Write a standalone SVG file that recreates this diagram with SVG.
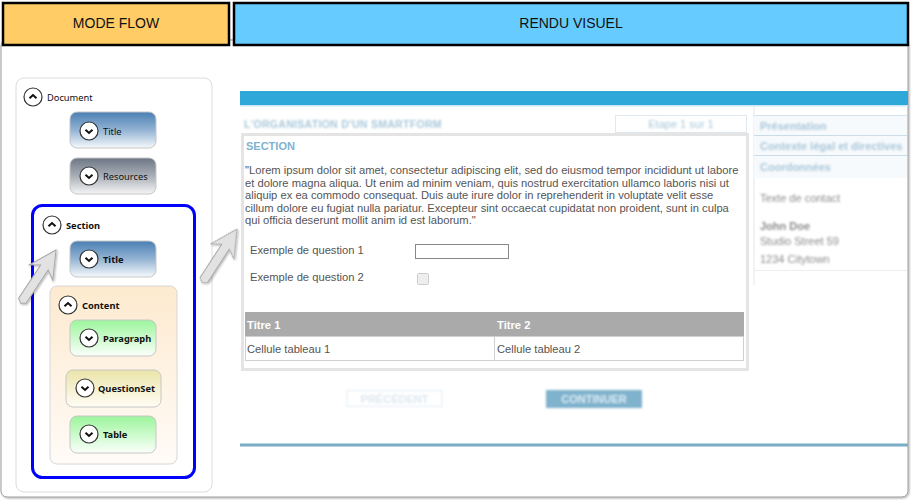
<svg xmlns="http://www.w3.org/2000/svg" xmlns:xlink="http://www.w3.org/1999/xlink" width="911" height="500" viewBox="0 0 911 500">
<style>
.hdr{stroke:#000;stroke-width:2.5}
.htxt{font-family:"Liberation Sans",Arial,sans-serif;font-size:14px;fill:#111;text-anchor:middle}
.lbl{font-family:"Noto Sans","Open Sans",sans-serif;font-size:9.3px;fill:#111}
.b{font-weight:bold}
.node{stroke:#c6c6c6;stroke-width:1}
.arrow{fill:#e2e2e2;stroke:#a8a8a8;stroke-width:1}
.web{font-family:"Liberation Sans",Arial,sans-serif;font-size:11.2px;fill:#555}
.side{font-family:"Liberation Sans",Arial,sans-serif;font-size:11px;font-weight:bold;fill:#a9c6da}
.ct{font-family:"Liberation Sans",Arial,sans-serif;font-size:11px;fill:#8c8c8c}
</style>
<defs>
<filter id="blur" x="-10%" y="-60%" width="120%" height="220%"><feGaussianBlur stdDeviation="0.9"/></filter>
<filter id="shadow" x="-20%" y="-20%" width="140%" height="140%"><feDropShadow dx="1" dy="1" stdDeviation="1" flood-color="#000" flood-opacity="0.3"/></filter>
<linearGradient id="gBlue" x1="0" y1="0" x2="0" y2="1"><stop offset="0" stop-color="#4a7fb4"/><stop offset="0.5" stop-color="#93b3d3"/><stop offset="1" stop-color="#f6f9fc"/></linearGradient>
<linearGradient id="gGray" x1="0" y1="0" x2="0" y2="1"><stop offset="0" stop-color="#6c7684"/><stop offset="0.5" stop-color="#a9afb7"/><stop offset="1" stop-color="#f5f5f5"/></linearGradient>
<linearGradient id="gGreen" x1="0" y1="0" x2="0" y2="1"><stop offset="0" stop-color="#9cf59c"/><stop offset="1" stop-color="#fbfffb"/></linearGradient>
<linearGradient id="gYellow" x1="0" y1="0" x2="0" y2="1"><stop offset="0" stop-color="#ebe4a9"/><stop offset="1" stop-color="#fffdf6"/></linearGradient>
<linearGradient id="gPeach" x1="0" y1="0" x2="0" y2="1"><stop offset="0" stop-color="#fdeacf"/><stop offset="1" stop-color="#fffbf7"/></linearGradient>
<g id="icDown"><circle r="9" fill="#fff" stroke="#333" stroke-width="1.2"/><path d="M-3.5,-1.3 L0,2 L3.5,-1.3" fill="none" stroke="#111" stroke-width="2"/></g>
<g id="icUp"><circle r="9" fill="#fff" stroke="#333" stroke-width="1.2"/><path d="M-3.5,1.3 L0,-2 L3.5,1.3" fill="none" stroke="#111" stroke-width="2"/></g>
<polygon id="bigArrow" points="0,0 -27,-14 -21,-4.5 -61,-4.5 -64,0 -61,4.5 -21,4.5 -27,14"/>
</defs>

<!-- outer frame -->
<rect x="1" y="40" width="907" height="457" rx="6" fill="#fff" stroke="#9a9a9a" stroke-width="1" filter="url(#shadow)"/>

<!-- headers -->
<g id="hdr-mode"><rect class="hdr" x="3" y="3" width="226" height="42" fill="#ffcc66"/><text class="htxt" x="116" y="28">MODE FLOW</text></g>
<g id="hdr-rendu"><rect class="hdr" x="234" y="3" width="674" height="42" fill="#66ccff"/><text class="htxt" x="571" y="28">RENDU VISUEL</text></g>

<!-- left panel -->
<g id="flow-panel"><rect x="16" y="78" width="196" height="414" rx="8" fill="#fff" stroke="#dcdcdc"/></g>

<g id="n-document"><use href="#icUp" x="33" y="97"/><text class="lbl" x="47" y="101">Document</text></g>
<g id="n-title1"><rect class="node" x="70" y="112" width="86" height="36" rx="7" fill="url(#gBlue)"/><use href="#icDown" x="89" y="131"/><text class="lbl" x="103" y="134.5">Title</text></g>
<g id="n-resources"><rect class="node" x="70" y="158" width="86" height="36" rx="7" fill="url(#gGray)"/><use href="#icDown" x="89" y="176"/><text class="lbl" x="103" y="179.5">Resources</text></g>

<g id="n-section"><rect x="32.5" y="205.5" width="162" height="272" rx="10" fill="#fff" stroke="#0000ff" stroke-width="3"/><use href="#icUp" x="52" y="225"/><text class="lbl b" x="66" y="229">Section</text></g>
<g id="n-title2"><rect class="node" x="70" y="241" width="86" height="36" rx="7" fill="url(#gBlue)"/><use href="#icDown" x="89" y="259"/><text class="lbl b" x="103" y="262.5">Title</text></g>

<g id="n-content"><rect x="50" y="286" width="127" height="178" rx="7" fill="url(#gPeach)" stroke="#d6d6d6"/><use href="#icUp" x="68" y="305"/><text class="lbl b" x="82" y="309">Content</text></g>
<g id="n-paragraph"><rect class="node" x="70" y="320" width="86" height="36" rx="7" fill="url(#gGreen)"/><use href="#icDown" x="89" y="338"/><text class="lbl b" x="103" y="341.5">Paragraph</text></g>
<g id="n-questionset"><rect class="node" x="66" y="370" width="95" height="37" rx="7" fill="url(#gYellow)"/><use href="#icDown" x="85" y="388"/><text class="lbl b" x="98" y="391.5">QuestionSet</text></g>
<g id="n-table"><rect class="node" x="70" y="416" width="86" height="37" rx="7" fill="url(#gGreen)"/><use href="#icDown" x="89" y="434"/><text class="lbl b" x="103" y="437.5">Table</text></g>

<!-- connectors (pointer arrows) -->
<g id="connectors" filter="url(#shadow)">
<use class="arrow" href="#bigArrow" transform="translate(56,250) rotate(-56.5)"/>
<use class="arrow" href="#bigArrow" transform="translate(237,229) rotate(-57)"/>
</g>

<!-- visual rendering -->
<g id="rendu">
<rect x="240" y="91" width="668" height="14" fill="#2ea8d9"/>
<rect x="240" y="105" width="668" height="1.5" fill="#c9e6f3"/>
<text filter="url(#blur)" x="244" y="128" font-family="Liberation Sans,Arial,sans-serif" font-size="10.5" font-weight="bold" fill="#a9c7da" letter-spacing="0.3">L'ORGANISATION D'UN SMARTFORM</text>
<rect x="615.5" y="115.5" width="131" height="17" fill="#fff" stroke="#dfe8ef"/>
<text filter="url(#blur)" x="681" y="128" font-family="Liberation Sans,Arial,sans-serif" font-size="11" fill="#a8c6da" text-anchor="middle">Etape 1 sur 1</text>

<rect x="242.5" y="134.5" width="505" height="235" fill="#fff" stroke="#e4e4e4" stroke-width="3"/>
<text x="246" y="150" font-family="Liberation Sans,Arial,sans-serif" font-size="11" font-weight="bold" fill="#7fb3d0">SECTION</text>
<text class="web"><tspan x="245" y="174">"Lorem ipsum dolor sit amet, consectetur adipiscing elit, sed do eiusmod tempor incididunt ut labore</tspan><tspan x="245" y="186.5">et dolore magna aliqua. Ut enim ad minim veniam, quis nostrud exercitation ullamco laboris nisi ut</tspan><tspan x="245" y="199">aliquip ex ea commodo consequat. Duis aute irure dolor in reprehenderit in voluptate velit esse</tspan><tspan x="245" y="211.5">cillum dolore eu fugiat nulla pariatur. Excepteur sint occaecat cupidatat non proident, sunt in culpa</tspan><tspan x="245" y="224">qui officia deserunt mollit anim id est laborum."</tspan></text>

<text class="web" x="250" y="254">Exemple de question 1</text>
<rect x="415.5" y="244.5" width="93" height="14" fill="#fff" stroke="#888"/>
<text class="web" x="250" y="281">Exemple de question 2</text>
<rect x="417.5" y="273.5" width="11" height="11" rx="1" fill="#eee" stroke="#ccc"/>

<rect x="245" y="312" width="499" height="24" fill="#aaaaaa"/>
<text x="247" y="328.5" font-family="Liberation Sans,Arial,sans-serif" font-size="11.2" font-weight="bold" fill="#fff">Titre 1</text>
<text x="497" y="328.5" font-family="Liberation Sans,Arial,sans-serif" font-size="11.2" font-weight="bold" fill="#fff">Titre 2</text>
<rect x="245.5" y="336.5" width="498" height="24" fill="#fff" stroke="#cfcfcf"/>
<line x1="494.5" y1="336" x2="494.5" y2="361" stroke="#cfcfcf"/>
<text class="web" x="247" y="353">Cellule tableau 1</text>
<text class="web" x="497" y="353">Cellule tableau 2</text>

<g filter="url(#blur)">
<rect x="347" y="390.5" width="95" height="16" fill="#fff" stroke="#e0ebf3"/>
<text x="394.5" y="402.5" font-family="Liberation Sans,Arial,sans-serif" font-size="11" font-weight="bold" fill="#dce7ef" text-anchor="middle">PRÉCÉDENT</text>
<rect x="546" y="390" width="96" height="18" fill="#7fb2cc"/>
<text x="594" y="403" font-family="Liberation Sans,Arial,sans-serif" font-size="11" font-weight="bold" fill="#d9ebf5" text-anchor="middle">CONTINUER</text>
</g>

<rect x="240" y="443.5" width="668" height="3" fill="#7aacc8"/>

<!-- sidebar -->
<line x1="754" y1="106" x2="754" y2="285" stroke="#e6e6e6"/>
<rect x="754" y="115" width="153" height="63" fill="#f7fafc"/>
<line x1="754" y1="115.5" x2="907" y2="115.5" stroke="#d5e3ec"/>
<line x1="754" y1="135.5" x2="907" y2="135.5" stroke="#c9dce8"/>
<line x1="754" y1="155.5" x2="907" y2="155.5" stroke="#c9dce8"/>
<g filter="url(#blur)">
<text class="side" x="760" y="130">Présentation</text>
<text class="side" x="760" y="150">Contexte légal et directives</text>
<text class="side" x="760" y="171" font-weight="normal">Coordonnées</text>
<text class="ct" x="760" y="202">Texte de contact</text>
<text class="ct" x="760" y="230" font-weight="bold">John Doe</text>
<text class="ct" x="760" y="245">Studio Street 59</text>
<text class="ct" x="760" y="263">1234 Citytown</text>
</g>
<line x1="754" y1="270.5" x2="907" y2="270.5" stroke="#eeeeee"/>
</g>
</svg>
